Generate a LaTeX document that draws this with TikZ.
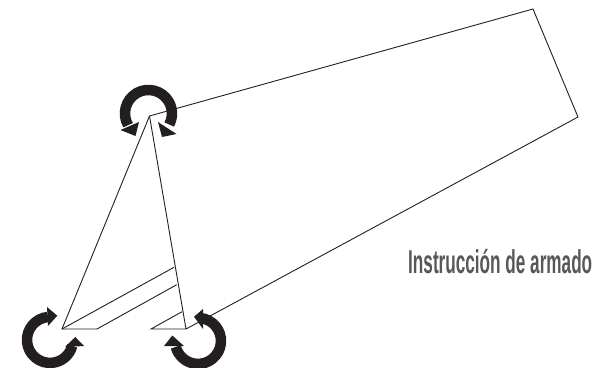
\documentclass[tikz,border=0pt]{standalone}
\usepackage{fontspec}
\newfontfamily\rotulo[FakeStretch=0.52]{Liberation Sans}
\definecolor{rotulogris}{RGB}{88,88,90}
\definecolor{girotono}{RGB}{35,31,32}
\tikzset{
  pliegue/.style={
    draw=girotono,
    line width=0.9pt,
    line join=miter
  },
  giro/.style={
    draw=girotono,
    line width=10.5pt
  },
  punta/.style={
    fill=girotono
  },
  rotulo/.style={
    inner sep=0pt,
    anchor=base west,
    text=rotulogris,
    font=\rotulo\bfseries\fontsize{33}{33}\selectfont
  },
}
\begin{document}
\begin{tikzpicture}[x=1pt,y=-1pt]
\useasboundingbox (0,0) rectangle (599,367);
\coordinate (apex) at (149.5,116);
\coordinate (arriba) at (533,9);
\coordinate (derecha) at (578,117);
\coordinate (pie) at (186,329);
\coordinate (talon) at (62,329);
\coordinate (talonfin) at (97,329);
\coordinate (solapa) at (151,329);
\draw[pliegue] (pie) -- (apex) -- (arriba) -- (derecha) -- (pie) -- (solapa) -- (182,311.7);
\draw[pliegue] (apex) -- (talon) -- (talonfin) -- (176.7,284.7);
\draw[pliegue] (talon) -- (174,267.3);
% giros
\draw[giro] (128.1,125.2) arc[start angle=150,delta angle=238,radius=23.5];
\draw[giro] (48,317) arc[start angle=-95,delta angle=-250,radius=23];
\draw[giro] (200,318) arc[start angle=-85,delta angle=250,radius=23];
\fill[punta] (120.5,130) -- (139,122) -- (135.5,136) -- cycle;
\fill[punta] (176.5,134) -- (158,122) -- (162,137) -- cycle;
\fill[punta] (47,307) -- (57.3,315.7) -- (48,326) -- cycle;
\fill[punta] (75.3,337) -- (84,346) -- (65,347) -- cycle;
\fill[punta] (203,309) -- (194,316.7) -- (203,329) -- cycle;
\fill[punta] (172.3,335.5) -- (184,346) -- (164,346) -- cycle;
\node[rotulo] (instruccion) at (408,273) {Instrucción de armado};
\end{tikzpicture}
\end{document}
